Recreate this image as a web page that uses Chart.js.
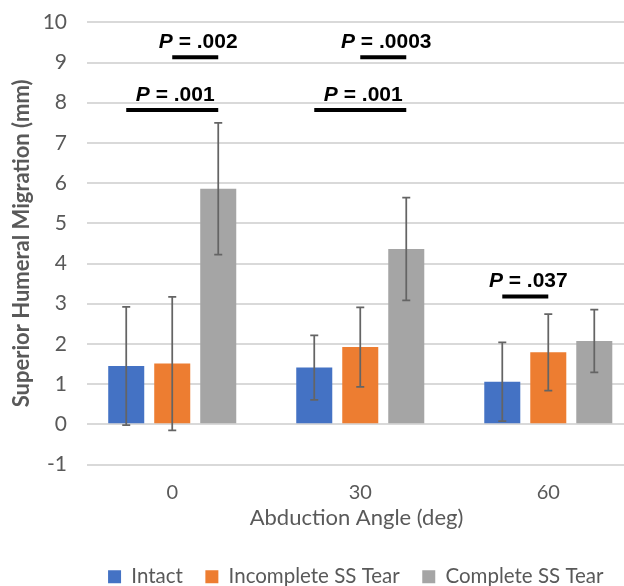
<!DOCTYPE html>
<html>
<head>
<meta charset="utf-8">
<script src="https://cdn.jsdelivr.net/npm/chart.js@4/dist/chart.umd.min.js"></script>
<style>
  html, body { margin: 0; padding: 0; background: #fff; overflow: hidden; }
</style>
</head>
<body>
<canvas id="chart" width="712" height="597"></canvas>
<script>
const angles       = [0, 30, 60];
const seriesNames  = ["Intact", "Incomplete SS Tear", "Complete SS Tear"];

const intactMean     = [1.45, 1.41, 1.06];
const intactSD       = [1.47, 0.80, 0.98];
const incompleteMean = [1.51, 1.92, 1.79];
const incompleteSD   = [1.66, 0.99, 0.95];
const completeMean   = [5.86, 4.36, 2.07];
const completeSD     = [1.64, 1.28, 0.78];

const yTicks = [-1, 0, 1, 2, 3, 4, 5, 6, 7, 8, 9, 10];

// significance bars: angle index, series from -> to, height (mm), p value
const sigAngle = [0, 0, 1, 1, 2];
const sigFrom  = [1, 0, 1, 0, 0];
const sigTo    = [2, 2, 2, 2, 1];
const sigLevel = [9.13, 7.82, 9.13, 7.82, 3.18];
const sigP     = [".002", ".001", ".0003", ".001", ".037"];

const textGray = "#595959";

function points(values){
    return angles.map((a, i) => ({ x: a, y: values[i] }));
}

// whiskers (mean +/- sd) on top of each bar
const errorBars = {
    id: "errorBars",
    afterDatasetsDraw(chart){
        const ctx = chart.ctx;
        const y = chart.scales.y;
        ctx.save();
        ctx.strokeStyle = "#646464";
        ctx.lineWidth = 1.75;
        chart.data.datasets.forEach((ds, di) => {
            chart.getDatasetMeta(di).data.forEach((bar, i) => {
                const m = ds.data[i].y, sd = ds.sd[i];
                const top = y.getPixelForValue(m + sd);
                const bot = y.getPixelForValue(m - sd);
                ctx.beginPath();
                ctx.moveTo(bar.x, top); ctx.lineTo(bar.x, bot);
                ctx.moveTo(bar.x - 4, top); ctx.lineTo(bar.x + 4, top);
                ctx.moveTo(bar.x - 4, bot); ctx.lineTo(bar.x + 4, bot);
                ctx.stroke();
            });
        });
        ctx.restore();
    }
};

// "P = ..." labels with black bars between compared groups
const sigBars = {
    id: "sigBars",
    afterDatasetsDraw(chart){
        const ctx = chart.ctx;
        const y = chart.scales.y;
        ctx.save();
        sigLevel.forEach((lvl, k) => {
            const x1 = chart.getDatasetMeta(sigFrom[k]).data[sigAngle[k]].x;
            const x2 = chart.getDatasetMeta(sigTo[k]).data[sigAngle[k]].x;
            const py = y.getPixelForValue(lvl);
            ctx.strokeStyle = "#000";
            ctx.lineWidth = 4;
            ctx.beginPath();
            ctx.moveTo(x1, py); ctx.lineTo(x2, py);
            ctx.stroke();

            const italic = "italic bold 21px 'Liberation Sans', Arial, sans-serif";
            const normal = "bold 21px 'Liberation Sans', Arial, sans-serif";
            const rest = " = " + sigP[k];
            ctx.font = italic;
            const wP = ctx.measureText("P").width;
            ctx.font = normal;
            const wR = ctx.measureText(rest).width;
            let tx = (x1 + x2) / 2 + 3 - (wP + wR) / 2;
            const ty = py - 9;
            ctx.fillStyle = "#000";
            ctx.textAlign = "left";
            ctx.textBaseline = "alphabetic";
            ctx.font = italic;
            ctx.fillText("P", tx, ty);
            ctx.font = normal;
            ctx.fillText(rest, tx + wP, ty);
        });
        ctx.restore();
    }
};

Chart.defaults.font.family = "Lato, 'Open Sans', sans-serif";
Chart.defaults.color = textGray;

new Chart(document.querySelector("#chart").getContext("2d"), {
    type: "bar",
    data: {
        datasets: [
            {
                label: seriesNames[0],
                data: points(intactMean),
                sd: intactSD,
                backgroundColor: "#4472C4",
                borderColor: "#4472C4",
                borderWidth: 0
            },
            {
                label: seriesNames[1],
                data: points(incompleteMean),
                sd: incompleteSD,
                backgroundColor: "#ED7D31",
                borderColor: "#ED7D31",
                borderWidth: 0
            },
            {
                label: seriesNames[2],
                data: points(completeMean),
                sd: completeSD,
                backgroundColor: "#A5A5A5",
                borderColor: "#A5A5A5",
                borderWidth: 0
            }
        ]
    },
    options: {
        responsive: false,
        animation: false,
        categoryPercentage: 0.734,
        barPercentage: 0.783,
        layout: { padding: { top: 22.3, right: 86, left: 0, bottom: 0 } },
        scales: {
            x: {
                type: "linear",
                offset: false,
                min: -13.6,
                max: 72.4,
                afterBuildTicks: axis => { axis.ticks = angles.map(v => ({ value: v })); },
                afterFit: axis => { axis.height = 79.5; },
                grid: { display: false, offset: false },
                border: { display: false },
                ticks: { font: { size: 20 }, padding: 8.5, color: textGray },
                title: {
                    display: true,
                    text: "Abduction Angle (deg)",
                    font: { size: 22 },
                    color: textGray,
                    padding: { top: 9, bottom: 12.8 }
                }
            },
            y: {
                min: -1,
                max: 10,
                afterBuildTicks: axis => { axis.ticks = yTicks.map(v => ({ value: v })); },
                afterFit: axis => { axis.width = 87; },
                grid: { color: "#d9d9d9", lineWidth: 2, drawTicks: true, tickLength: 12, tickColor: "rgba(0,0,0,0)" },
                border: { display: false },
                ticks: { font: { size: 21 }, padding: 8, color: textGray },
                title: {
                    display: true,
                    text: "Superior Humeral Migration (mm)",
                    font: { size: 22, weight: "bold" },
                    color: textGray,
                    padding: { top: 9, bottom: 7 }
                }
            }
        },
        plugins: {
            legend: {
                position: "bottom",
                align: "end",
                labels: {
                    font: { size: 20.5 },
                    color: textGray,
                    boxWidth: 13,
                    boxHeight: 13,
                    padding: 22.5
                }
            },
            tooltip: { enabled: false }
        }
    },
    plugins: [errorBars, sigBars]
});
</script>
</body>
</html>
